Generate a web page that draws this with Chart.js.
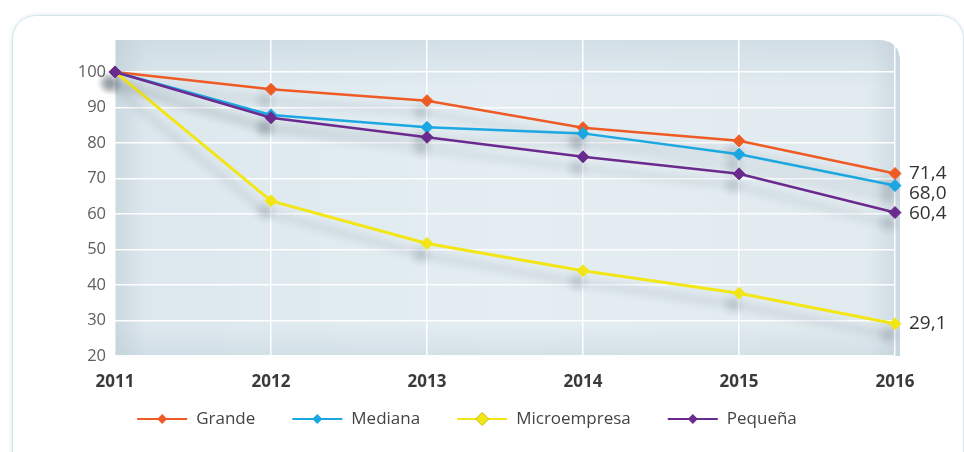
<!DOCTYPE html>
<html>
<head>
<meta charset="utf-8">
<script src="https://cdn.jsdelivr.net/npm/chart.js@4.4.1/dist/chart.umd.min.js"></script>
<style>
html, body { margin: 0; padding: 0; background: #fff; width: 964px; height: 452px; overflow: hidden; }
#card { position: absolute; left: 12px; top: 15px; width: 952px; height: 470px; box-sizing: border-box;
        border: 1.5px solid #d3e6e9; border-radius: 24px; box-shadow: 0 0 4px rgba(160,195,205,.4); }
#wrap { position: absolute; left: 0; top: 0; width: 964px; height: 452px; }
</style>
</head>
<body>
<div id="card"></div>
<div id="wrap"><canvas id="chart"></canvas></div>
<script>
// values (index, 2011 = 100)
const years = ['2011', '2012', '2013', '2014', '2015', '2016'];
const grande = [100, 95.1, 91.9, 84.3, 80.6, 71.4];
const mediana = [100, 87.9, 84.4, 82.7, 76.8, 68.0];
const microempresa = [100, 63.7, 51.7, 44.0, 37.7, 29.1];
const pequena = [100, 87.1, 81.6, 76.1, 71.3, 60.4];
const seriesNames = ['Grande', 'Mediana', 'Microempresa', 'Pequeña'];
const seriesColors = ['#ef5b25', '#1ba7e1', '#f2e616', '#6a2a8e'];
const yTicks = [20, 30, 40, 50, 60, 70, 80, 90, 100];

const FONT = '"Open Sans", "Noto Sans", sans-serif';

// light blue plot panel with rounded top-right corner
const panelBg = {
    id: 'panelBg',
    beforeDraw(chart) {
        const { ctx, chartArea: a } = chart;
        const l = a.left, t = a.top, r = a.right + 5, b = a.bottom, rad = 22;
        ctx.save();
        ctx.beginPath();
        ctx.moveTo(l, t);
        ctx.lineTo(r - rad, t);
        ctx.quadraticCurveTo(r, t, r, t + rad);
        ctx.lineTo(r, b);
        ctx.lineTo(l, b);
        ctx.closePath();
        const g = ctx.createLinearGradient(l, 0, r, 0);
        g.addColorStop(0, '#cbd8df');
        g.addColorStop(0.04, '#dde8ee');
        g.addColorStop(0.5, '#e3edf2');
        g.addColorStop(0.96, '#e0eaef');
        g.addColorStop(1, '#cdd9e0');
        ctx.fillStyle = g;
        ctx.fill();
        const gv = ctx.createLinearGradient(0, t, 0, b);
        gv.addColorStop(0, 'rgba(180,198,208,0.35)');
        gv.addColorStop(0.15, 'rgba(180,198,208,0)');
        gv.addColorStop(0.9, 'rgba(180,198,208,0)');
        gv.addColorStop(1, 'rgba(180,198,208,0.3)');
        ctx.fillStyle = gv;
        ctx.fill();
        ctx.restore();
    }
};

// soft drop shadow under lines and markers
const lineShadow = {
    id: 'lineShadow',
    beforeDatasetsDraw(chart) {
        const c = chart.ctx;
        c.save();
        c.shadowColor = 'rgba(80,92,102,0.3)';
        c.shadowBlur = 9;
        c.shadowOffsetX = -6;
        c.shadowOffsetY = 11;
    },
    afterDatasetsDraw(chart) {
        chart.ctx.restore();
    }
};

// end values on the right + legend with line/diamond symbols
const extras = {
    id: 'extras',
    afterDraw(chart) {
        const ctx = chart.ctx;
        ctx.save();
        // end labels
        const ends = chart.data.datasets.map((ds, i) => {
            const pt = chart.getDatasetMeta(i).data[ds.data.length - 1];
            return { x: pt.x, y: pt.y, v: ds.data[ds.data.length - 1] };
        }).sort((a, b) => a.y - b.y);
        let lastY = -100;
        ctx.font = '19px ' + FONT;
        ctx.fillStyle = '#333';
        ctx.textBaseline = 'middle';
        ctx.textAlign = 'left';
        ends.forEach(e => {
            let y = Math.max(e.y, lastY + 20);
            ctx.fillText(e.v.toFixed(1).replace('.', ','), e.x + 14, y);
            lastY = y;
        });

        // legend
        ctx.font = '17px ' + FONT;
        const symW = 50, gap = 9, itemGap = 37, cy = 419;
        const widths = seriesNames.map(n => symW + gap + ctx.measureText(n).width);
        const total = widths.reduce((s, w) => s + w, 0) + itemGap * (seriesNames.length - 1);
        let x = 467 - total / 2;
        seriesNames.forEach((name, i) => {
            const col = seriesColors[i];
            ctx.strokeStyle = col;
            ctx.lineWidth = 2;
            ctx.beginPath();
            ctx.moveTo(x, cy);
            ctx.lineTo(x + symW, cy);
            ctx.stroke();
            const d = i === 2 ? 6.5 : 5;
            ctx.beginPath();
            ctx.moveTo(x + symW / 2, cy - d);
            ctx.lineTo(x + symW / 2 + d, cy);
            ctx.lineTo(x + symW / 2, cy + d);
            ctx.lineTo(x + symW / 2 - d, cy);
            ctx.closePath();
            ctx.fillStyle = col;
            ctx.fill();
            if (i === 2) { ctx.strokeStyle = '#c8b900'; ctx.lineWidth = 1; ctx.stroke(); }
            ctx.fillStyle = '#444';
            ctx.fillText(name, x + symW + gap, cy);
            x += widths[i] + itemGap;
        });
        ctx.restore();
    }
};

function makeSet(label, data, color, order, width) {
    return {
        label, data, order,
        borderColor: color,
        backgroundColor: color,
        borderWidth: width,
        pointStyle: 'rectRot',
        pointRadius: 6,
        pointBorderWidth: 1,
        pointBorderColor: color,
        pointBackgroundColor: color,
        tension: 0,
        clip: false
    };
}

new Chart(document.getElementById('chart'), {
    type: 'line',
    data: {
        labels: years,
        datasets: [
            makeSet(seriesNames[0], grande, seriesColors[0], 4, 2.5),
            makeSet(seriesNames[1], mediana, seriesColors[1], 3, 2.5),
            makeSet(seriesNames[2], microempresa, seriesColors[2], 2, 3),
            makeSet(seriesNames[3], pequena, seriesColors[3], 1, 2.5)
        ]
    },
    options: {
        responsive: true,
        maintainAspectRatio: false,
        animation: false,
        layout: { padding: { top: 40, right: 69, bottom: 56, left: 0 } },
        plugins: { legend: { display: false }, tooltip: { enabled: false } },
        scales: {
            x: {
                offset: false,
                grid: { color: 'rgba(255,255,255,0.95)', lineWidth: 1.5, drawTicks: false },
                border: { display: false },
                ticks: { color: '#3a3a3a', padding: 16, font: { family: FONT, size: 17, weight: 'bold' } },
                afterFit(scale) { scale.height = 40; }
            },
            y: {
                min: 20,
                max: 109,
                grid: { color: 'rgba(255,255,255,0.95)', lineWidth: 1.5, drawTicks: false },
                border: { display: false },
                ticks: { color: '#5e5e5e', padding: 9, font: { family: FONT, size: 16.5 } },
                afterBuildTicks(scale) { scale.ticks = yTicks.map(v => ({ value: v })); },
                afterFit(scale) { scale.width = 115; }
            }
        }
    },
    plugins: [panelBg, lineShadow, extras]
});
</script>
</body>
</html>
